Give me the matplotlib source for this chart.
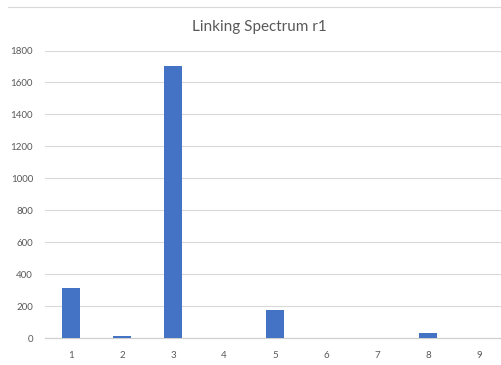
import matplotlib
matplotlib.use("Agg")
import matplotlib.pyplot as plt
from matplotlib.lines import Line2D

categories = ["1", "2", "3", "4", "5", "6", "7", "8", "9"]
values = [316, 12, 1705, 0, 175, 0, 0, 35, 0]
yticks = [0, 200, 400, 600, 800, 1000, 1200, 1400, 1600, 1800]

W, H = 502, 365
fig = plt.figure(figsize=(W / 100, H / 100), dpi=100)
plt.rcParams["font.family"] = ["Lato", "DejaVu Sans"]

ax = fig.add_axes([45.5 / W, 26.7 / H, 459 / W, 287.8 / H])
x = list(range(1, len(categories) + 1))
ax.bar(x, values, width=0.34, color="#4472C4", zorder=3)

ax.set_xlim(0.5, 9.5)
ax.set_ylim(0, 1800)
ax.set_yticks(yticks)
ax.set_yticklabels([str(v) for v in yticks])
ax.set_xticks(x)
ax.set_xticklabels(categories)
ax.tick_params(axis="both", length=0, labelsize=7, labelcolor="#595959")
ax.tick_params(axis="y", pad=9)
ax.tick_params(axis="x", pad=9)
ax.yaxis.grid(True, color="#d9d9d9", linewidth=0.8, zorder=0)
for s in ["top", "right", "left"]:
    ax.spines[s].set_visible(False)
ax.spines["bottom"].set_color("#d0d0d0")
ax.spines["bottom"].set_linewidth(0.9)

fig.text(259 / W, 1 - 31 / H, "Linking Spectrum r1", ha="center", va="baseline",
         fontsize=11, color="#595959")

fig.add_artist(Line2D([8 / W, 1.0], [1 - 7 / H, 1 - 7 / H], color="#d9d9d9",
                      linewidth=0.8, transform=fig.transFigure))

fig.savefig("out.png", dpi=100)
